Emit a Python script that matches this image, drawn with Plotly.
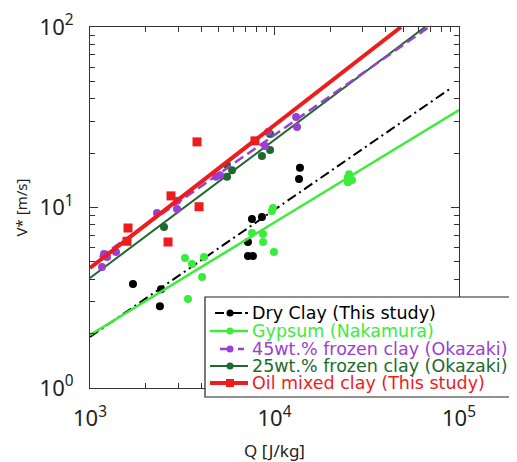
import plotly.graph_objects as go

# ---------------- data ----------------
dry_Q = [1710, 2426, 2393, 7550, 8550, 7180, 7180, 7640, 13740, 13580]
dry_V = [3.77, 3.53, 2.84, 8.63, 8.86, 6.44, 5.38, 5.38, 16.6, 14.4]

gyp_Q = [3272, 3571, 4150, 4048, 3396, 7550, 8670, 8670, 9930, 9680, 9810, 25000, 26300, 25000, 25360]
gyp_V = [5.25, 4.86, 5.32, 4.12, 3.11, 7.23, 7.13, 6.44, 5.66, 9.57, 9.93, 14.7, 14.2, 13.8, 15.3]

f45_Q = [1162, 1191, 1237, 1383, 2307, 2962, 2962, 4818, 5070, 9230, 8890, 13100, 13240]
f45_V = [4.68, 5.52, 5.32, 5.66, 9.33, 10.9, 9.82, 14.8, 15.1, 26.2, 21.9, 31.7, 27.9]

f25_Q = [2518, 5530, 5890, 5530, 8550, 9460, 9460]
f25_V = [7.8, 17.2, 16.1, 14.8, 19.3, 20.8, 25.5]

oil_Q = [1607, 1587, 2648, 2748, 3802, 3900, 7834]
oil_V = [7.7, 6.5, 6.44, 11.6, 23.1, 10.1, 23.4]

# fitted power-law lines (end points)
dry_fit_Q = [1000, 90600]
dry_fit_V = [1.92, 45.9]
gyp_fit_Q = [1000, 100000]
gyp_fit_V = [1.97, 34.7]
f45_fit_Q = [1130, 68700]
f45_fit_V = [5.31, 100]
f25_fit_Q = [1000, 65500]
f25_fit_V = [4.07, 100]
oil_fit_Q = [1000, 48500]
oil_fit_V = [4.62, 100]

labels = ["Dry Clay (This study)", "Gypsum (Nakamura)",
          "45wt.% frozen clay (Okazaki)", "25wt.% frozen clay (Okazaki)",
          "Oil mixed clay (This study)"]

x_ticks = [1e3, 1e4, 1e5]
x_ticktext = ["10<sup>3</sup>", "10<sup>4</sup>", "10<sup>5</sup>"]
y_ticks = [1, 10, 100]
y_ticktext = ["10<sup>0</sup>", "10<sup>1</sup>", "10<sup>2</sup>"]

# ---------------- styles ----------------
C_BLACK = "#000000"
C_LIME = "#3cec3c"
C_PURPLE = "#9a3fd0"
C_DGREEN = "#1d6a2c"
C_RED = "#ee1c1c"
FONT = "Noto Sans"
LEG_FONT = "DejaVu Sans"

# the page body has an 8px margin, so the figure is a bit smaller and offset
OFF = 8
FIG_W, FIG_H = 517 - OFF, 462 - OFF
L, T, W, H = 90 - OFF, 27 - OFF, 369, 361  # plot area in figure px

fig = go.Figure()

def add_series(Q, V, fQ, fV, color, dash, lw, symbol, msize):
    fig.add_trace(go.Scatter(x=fQ, y=fV, mode="lines",
                             line=dict(color=color, width=lw, dash=dash),
                             showlegend=False, hoverinfo="skip"))
    fig.add_trace(go.Scatter(x=Q, y=V, mode="markers",
                             marker=dict(color=color, size=msize, symbol=symbol),
                             showlegend=False))

add_series(dry_Q, dry_V, dry_fit_Q, dry_fit_V, C_BLACK, "10px,4px,2px,4px", 2, "circle", 8)
add_series(gyp_Q, gyp_V, gyp_fit_Q, gyp_fit_V, C_LIME, "solid", 2.5, "circle", 8)
add_series(f25_Q, f25_V, f25_fit_Q, f25_fit_V, C_DGREEN, "solid", 2, "circle", 8)
add_series(f45_Q, f45_V, f45_fit_Q, f45_fit_V, C_PURPLE, "10px,5px", 2.5, "circle", 8)
add_series(oil_Q, oil_V, oil_fit_Q, oil_fit_V, C_RED, "solid", 4, "square", 9)

# ---------------- manual legend (tight rows like the reference) ----------------
# positions given in screen px of the reference
def px(x):
    return (x - OFF - L) / W
def py(y):
    return (T + H - (y - OFF)) / H

shapes = [dict(type="rect", xref="paper", yref="paper",
               x0=px(205), x1=px(511), y0=py(397), y1=py(297),
               line=dict(color="#222", width=1.2), fillcolor="white", layer="above")]
annotations = []
rows = [313, 331, 349, 366, 383]
leg_style = [
    (C_BLACK, "dashdot", 2, "circle", 215, 248),
    (C_LIME, "solid", 2.5, "circle", 210, 248),
    (C_PURPLE, "dash", 2.5, "circle", 220, 244),
    (C_DGREEN, "solid", 2, "circle", 210, 248),
    (C_RED, "solid", 4, "square", 210, 248),
]
for (col, dsh, lw, sym, xa, xb), yr, lab in zip(leg_style, rows, labels):
    shapes.append(dict(type="line", xref="paper", yref="paper",
                       x0=px(xa), x1=px(xb), y0=py(yr), y1=py(yr),
                       line=dict(color=col, width=lw, dash=dsh), layer="above"))
    r = 3.5 if sym == "circle" else 4
    shapes.append(dict(type="circle" if sym == "circle" else "rect",
                       xref="paper", yref="paper",
                       xsizemode="pixel", ysizemode="pixel",
                       xanchor=px(230), yanchor=py(yr),
                       x0=-r, x1=r, y0=-r, y1=r,
                       line=dict(color=col, width=0), fillcolor=col, layer="above"))
    annotations.append(dict(text=lab, xref="paper", yref="paper",
                            x=px(251), y=py(yr), xanchor="left", yanchor="middle",
                            showarrow=False, borderpad=0,
                            font=dict(family=LEG_FONT, size=17.5, color=col)))

axis_common = dict(type="log", showgrid=False, zeroline=False, showline=True,
                   linecolor="#333", linewidth=1, mirror="allticks",
                   ticks="inside", ticklen=8, tickcolor="#333", tickwidth=1,
                   automargin=False,
                   tickfont=dict(family=FONT, size=22, color="#222"),
                   minor=dict(ticks="inside", ticklen=5, tickcolor="#333", dtick="D1"))

fig.update_layout(
    width=FIG_W, height=FIG_H,
    margin=dict(l=L, r=FIG_W - L - W, t=T, b=FIG_H - T - H),
    paper_bgcolor="white", plot_bgcolor="white",
    xaxis=dict(axis_common, range=[3, 5], tickvals=x_ticks, ticktext=x_ticktext,
               ticklabelstandoff=11,
               title=dict(text="Q [J/kg]", font=dict(family=FONT, size=17, color="#222"), standoff=17)),
    yaxis=dict(axis_common, range=[0, 2], tickvals=y_ticks, ticktext=y_ticktext,
               ticklabelstandoff=11,
               title=dict(text="V* [m/s]", font=dict(family=FONT, size=15, color="#222"), standoff=8)),
    shapes=shapes, annotations=annotations,
    showlegend=False,
)

fig.write_html("out.html")
